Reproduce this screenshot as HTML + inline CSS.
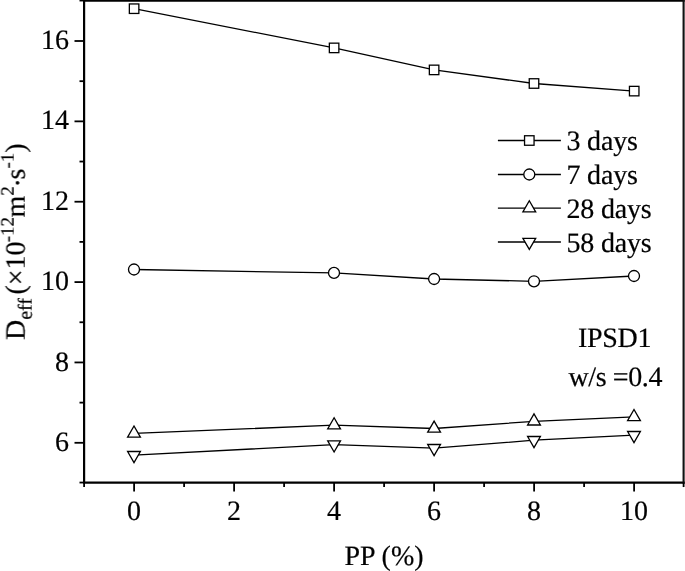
<!DOCTYPE html>
<html><head><meta charset="utf-8"><style>
html,body{margin:0;padding:0;background:#fff;}
svg{display:block;}
.t{opacity:0.999;}
text{font-family:"Liberation Serif",serif;font-size:28px;fill:#000;stroke:#000;stroke-width:0.2px;text-rendering:geometricPrecision;}
</style></head><body>
<svg width="685" height="571" viewBox="0 0 685 571">
<polyline points="134.10,8.70 334.10,47.90 434.10,69.90 534.00,83.50 634.20,91.10" fill="none" stroke="#000" stroke-width="1.3"/>
<rect x="129.35" y="3.95" width="9.5" height="9.5" fill="#fff" stroke="#000" stroke-width="1.3"/>
<rect x="329.35" y="43.15" width="9.5" height="9.5" fill="#fff" stroke="#000" stroke-width="1.3"/>
<rect x="429.35" y="65.15" width="9.5" height="9.5" fill="#fff" stroke="#000" stroke-width="1.3"/>
<rect x="529.25" y="78.75" width="9.5" height="9.5" fill="#fff" stroke="#000" stroke-width="1.3"/>
<rect x="629.45" y="86.35" width="9.5" height="9.5" fill="#fff" stroke="#000" stroke-width="1.3"/>
<polyline points="134.00,269.50 334.00,272.90 434.10,279.00 534.00,281.30 634.00,276.00" fill="none" stroke="#000" stroke-width="1.3"/>
<circle cx="134.00" cy="269.50" r="5.5" fill="#fff" stroke="#000" stroke-width="1.3"/>
<circle cx="334.00" cy="272.90" r="5.5" fill="#fff" stroke="#000" stroke-width="1.3"/>
<circle cx="434.10" cy="279.00" r="5.5" fill="#fff" stroke="#000" stroke-width="1.3"/>
<circle cx="534.00" cy="281.30" r="5.5" fill="#fff" stroke="#000" stroke-width="1.3"/>
<circle cx="634.00" cy="276.00" r="5.5" fill="#fff" stroke="#000" stroke-width="1.3"/>
<polyline points="134.00,433.40 334.10,425.20 434.10,428.50 534.00,421.30 634.00,416.90" fill="none" stroke="#000" stroke-width="1.3"/>
<path d="M134.00,426.00L127.60,437.10L140.40,437.10Z" fill="#fff" stroke="#000" stroke-width="1.3" stroke-linejoin="miter"/>
<path d="M334.10,417.80L327.70,428.90L340.50,428.90Z" fill="#fff" stroke="#000" stroke-width="1.3" stroke-linejoin="miter"/>
<path d="M434.10,421.10L427.70,432.20L440.50,432.20Z" fill="#fff" stroke="#000" stroke-width="1.3" stroke-linejoin="miter"/>
<path d="M534.00,413.90L527.60,425.00L540.40,425.00Z" fill="#fff" stroke="#000" stroke-width="1.3" stroke-linejoin="miter"/>
<path d="M634.00,409.50L627.60,420.60L640.40,420.60Z" fill="#fff" stroke="#000" stroke-width="1.3" stroke-linejoin="miter"/>
<polyline points="134.00,455.20 334.10,444.60 434.10,448.20 534.00,440.20 634.00,435.20" fill="none" stroke="#000" stroke-width="1.3"/>
<path d="M134.00,462.60L127.60,451.50L140.40,451.50Z" fill="#fff" stroke="#000" stroke-width="1.3" stroke-linejoin="miter"/>
<path d="M334.10,452.00L327.70,440.90L340.50,440.90Z" fill="#fff" stroke="#000" stroke-width="1.3" stroke-linejoin="miter"/>
<path d="M434.10,455.60L427.70,444.50L440.50,444.50Z" fill="#fff" stroke="#000" stroke-width="1.3" stroke-linejoin="miter"/>
<path d="M534.00,447.60L527.60,436.50L540.40,436.50Z" fill="#fff" stroke="#000" stroke-width="1.3" stroke-linejoin="miter"/>
<path d="M634.00,442.60L627.60,431.50L640.40,431.50Z" fill="#fff" stroke="#000" stroke-width="1.3" stroke-linejoin="miter"/>
<path d="M683.6,0.55H84.1V482.55H683.6" fill="none" stroke="#000" stroke-width="2.2" stroke-linecap="square"/>
<line x1="683.6" y1="-0.44999999999999996" x2="683.6" y2="483.55" stroke="#111" stroke-width="2.1"/>
<line x1="79.50" y1="482.55" x2="84.10" y2="482.55" stroke="#000" stroke-width="1.8"/>
<line x1="74.50" y1="442.80" x2="84.10" y2="442.80" stroke="#000" stroke-width="1.8"/>
<line x1="79.50" y1="402.62" x2="84.10" y2="402.62" stroke="#000" stroke-width="1.8"/>
<line x1="74.50" y1="362.44" x2="84.10" y2="362.44" stroke="#000" stroke-width="1.8"/>
<line x1="79.50" y1="322.26" x2="84.10" y2="322.26" stroke="#000" stroke-width="1.8"/>
<line x1="74.50" y1="282.08" x2="84.10" y2="282.08" stroke="#000" stroke-width="1.8"/>
<line x1="79.50" y1="241.90" x2="84.10" y2="241.90" stroke="#000" stroke-width="1.8"/>
<line x1="74.50" y1="201.72" x2="84.10" y2="201.72" stroke="#000" stroke-width="1.8"/>
<line x1="79.50" y1="161.54" x2="84.10" y2="161.54" stroke="#000" stroke-width="1.8"/>
<line x1="74.50" y1="121.36" x2="84.10" y2="121.36" stroke="#000" stroke-width="1.8"/>
<line x1="79.50" y1="81.18" x2="84.10" y2="81.18" stroke="#000" stroke-width="1.8"/>
<line x1="74.50" y1="41.00" x2="84.10" y2="41.00" stroke="#000" stroke-width="1.8"/>
<line x1="79.50" y1="0.55" x2="84.10" y2="0.55" stroke="#000" stroke-width="1.8"/>
<line x1="84.10" y1="482.55" x2="84.10" y2="487.05" stroke="#000" stroke-width="1.8"/>
<line x1="134.10" y1="482.55" x2="134.10" y2="491.55" stroke="#000" stroke-width="1.8"/>
<line x1="184.10" y1="482.55" x2="184.10" y2="487.05" stroke="#000" stroke-width="1.8"/>
<line x1="234.10" y1="482.55" x2="234.10" y2="491.55" stroke="#000" stroke-width="1.8"/>
<line x1="284.10" y1="482.55" x2="284.10" y2="487.05" stroke="#000" stroke-width="1.8"/>
<line x1="334.10" y1="482.55" x2="334.10" y2="491.55" stroke="#000" stroke-width="1.8"/>
<line x1="384.10" y1="482.55" x2="384.10" y2="487.05" stroke="#000" stroke-width="1.8"/>
<line x1="434.10" y1="482.55" x2="434.10" y2="491.55" stroke="#000" stroke-width="1.8"/>
<line x1="484.10" y1="482.55" x2="484.10" y2="487.05" stroke="#000" stroke-width="1.8"/>
<line x1="534.10" y1="482.55" x2="534.10" y2="491.55" stroke="#000" stroke-width="1.8"/>
<line x1="584.10" y1="482.55" x2="584.10" y2="487.05" stroke="#000" stroke-width="1.8"/>
<line x1="634.10" y1="482.55" x2="634.10" y2="491.55" stroke="#000" stroke-width="1.8"/>
<line x1="683.60" y1="482.55" x2="683.60" y2="487.05" stroke="#000" stroke-width="1.8"/>
<line x1="497.9" y1="140.5" x2="560.9" y2="140.5" stroke="#000" stroke-width="1.3"/>
<rect x="524.55" y="135.75" width="9.5" height="9.5" fill="#fff" stroke="#000" stroke-width="1.3"/>
<line x1="497.9" y1="174.5" x2="560.9" y2="174.5" stroke="#000" stroke-width="1.3"/>
<circle cx="529.30" cy="174.50" r="5.5" fill="#fff" stroke="#000" stroke-width="1.3"/>
<line x1="497.9" y1="208.2" x2="560.9" y2="208.2" stroke="#000" stroke-width="1.3"/>
<path d="M529.30,200.80L522.90,211.90L535.70,211.90Z" fill="#fff" stroke="#000" stroke-width="1.3" stroke-linejoin="miter"/>
<line x1="497.9" y1="242.0" x2="560.9" y2="242.0" stroke="#000" stroke-width="1.3"/>
<path d="M529.30,249.40L522.90,238.30L535.70,238.30Z" fill="#fff" stroke="#000" stroke-width="1.3" stroke-linejoin="miter"/>
<g class="t">
<text x="69" y="450.90" text-anchor="end">6</text>
<text x="69" y="370.54" text-anchor="end">8</text>
<text x="69" y="290.18" text-anchor="end">10</text>
<text x="69" y="209.82" text-anchor="end">12</text>
<text x="69" y="129.46" text-anchor="end">14</text>
<text x="69" y="49.10" text-anchor="end">16</text>
<text x="134.10" y="519.7" text-anchor="middle">0</text>
<text x="234.10" y="519.7" text-anchor="middle">2</text>
<text x="334.10" y="519.7" text-anchor="middle">4</text>
<text x="434.10" y="519.7" text-anchor="middle">6</text>
<text x="534.10" y="519.7" text-anchor="middle">8</text>
<text x="634.10" y="519.7" text-anchor="middle">10</text>
<text x="384" y="565" text-anchor="middle">PP (%)</text>
<text x="566.5" y="150.20" letter-spacing="-0.2">3 days</text>
<text x="566.5" y="184.20" letter-spacing="-0.2">7 days</text>
<text x="566.5" y="217.90" letter-spacing="-0.2">28 days</text>
<text x="566.5" y="251.70" letter-spacing="-0.2">58 days</text>
<text x="578" y="347" letter-spacing="-0.3">IPSD1</text>
<text x="568.5" y="386.2" letter-spacing="-0.4">w/s =0.4</text>
<text transform="translate(24.7,340) rotate(-90)"><tspan x="0" y="0">D</tspan><tspan x="20.2" y="7.0" font-size="20.0">eff</tspan><tspan x="45.4" y="0">(</tspan><tspan x="54.7" y="0">×</tspan><tspan x="70.5" y="0">10</tspan><tspan x="97.8" y="-11.3" font-size="19.0">-12</tspan><tspan x="122.6" y="0">m</tspan><tspan x="144.2" y="-11.3" font-size="19.0">2</tspan><tspan x="152.5" y="2.1">·</tspan><tspan x="160.4" y="0">s</tspan><tspan x="171.4" y="-11.3" font-size="19.0">-1</tspan><tspan x="187.2" y="0">)</tspan></text>
</g>
</svg>
</body></html>
